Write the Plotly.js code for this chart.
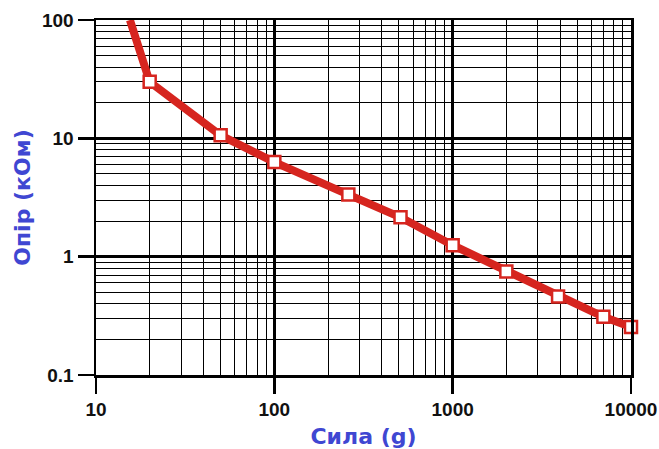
<!DOCTYPE html>
<html>
<head>
<meta charset="utf-8">
<script src="https://cdn.plot.ly/plotly-3.0.1.min.js"></script>
<style>html,body{margin:0;padding:0;background:#fff;}#chart{width:659px;height:449px;}</style>
</head>
<body>
<div id="chart"></div>
<script>
// Data
const forceG = [15.5, 20, 50, 100, 260, 510, 1000, 2000, 3900, 7000, 10000];
const resistanceKOhm = [100, 30, 10.6, 6.3, 3.35, 2.15, 1.25, 0.75, 0.46, 0.31, 0.255];
const firstMarkerIndex = 1; // the curve enters from the top edge without a marker
const xTickVals = [10, 100, 1000, 10000];
const xTickText = ['10', '100', '1000', '10000'];
const yTickVals = [0.1, 1, 10, 100];
const yTickText = ['0.1', '1', '10', '100'];

const tickFont = {family: 'Liberation Sans, Arial, sans-serif', size: 19, color: '#111', weight: 'bold'};
const titleFont = {family: 'DejaVu Sans, sans-serif', size: 22, color: '#3f47d2', weight: 'bold'};
const red = '#d6251f';

const lineTrace = {
  x: forceG,
  y: resistanceKOhm,
  type: 'scatter',
  mode: 'lines',
  line: {color: red, width: 8},
  hoverinfo: 'skip'
};
const markerTrace = {
  x: forceG.slice(firstMarkerIndex),
  y: resistanceKOhm.slice(firstMarkerIndex),
  type: 'scatter',
  mode: 'markers',
  cliponaxis: false,
  marker: {symbol: 'square', size: 12, color: '#ffffff', opacity: 1, line: {color: red, width: 2.5}},
  hoverinfo: 'x+y'
};

const axisCommon = {
  type: 'log',
  showline: true,
  linecolor: '#000',
  linewidth: 2.5,
  mirror: true,
  showgrid: true,
  gridcolor: '#000',
  gridwidth: 2.5,
  ticks: 'outside',
  ticklen: 16,
  tickwidth: 2.5,
  tickcolor: '#000',
  tickfont: tickFont,
  zeroline: false,
  minor: {dtick: 'D1', showgrid: true, gridcolor: '#000', gridwidth: 1, ticks: ''}
};

const layout = {
  width: 659,
  height: 449,
  margin: {l: 96, r: 28, t: 20, b: 74},
  paper_bgcolor: '#fff',
  plot_bgcolor: '#fff',
  showlegend: false,
  xaxis: Object.assign({}, axisCommon, {
    range: [1, 4],
    tickvals: xTickVals,
    ticktext: xTickText,
    automargin: false,
    title: {text: 'Сила (g)', font: titleFont, standoff: 12}
  }),
  yaxis: Object.assign({}, axisCommon, {
    range: [-1, 2],
    tickvals: yTickVals,
    ticktext: yTickText,
    automargin: false,
    title: {text: 'Опір (кОм)', font: titleFont, standoff: 6}
  })
};

Plotly.newPlot('chart', [lineTrace, markerTrace], layout, {displayModeBar: false, staticPlot: true});
</script>
</body>
</html>
